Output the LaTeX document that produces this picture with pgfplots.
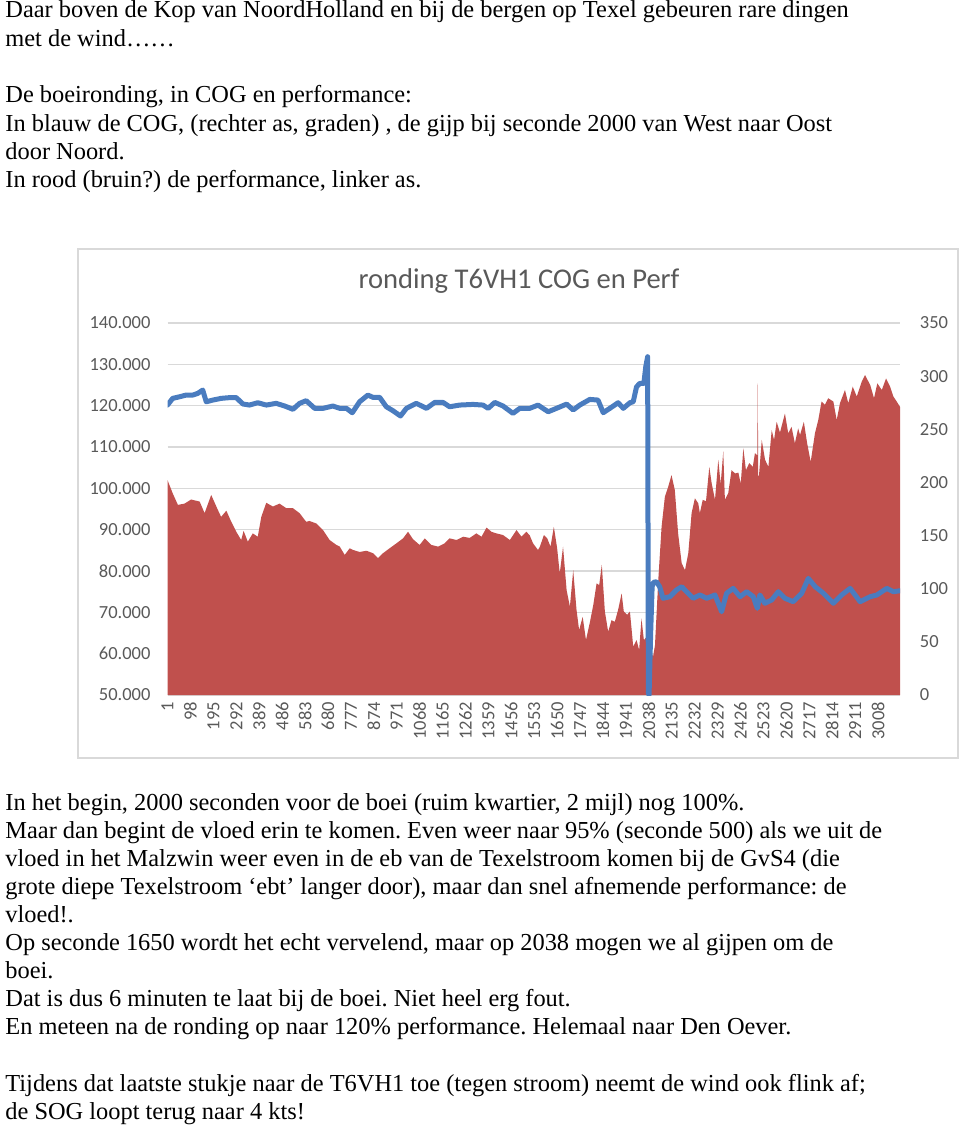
\documentclass[border=0pt]{standalone}
\usepackage{pgfplots}
\pgfplotsset{compat=1.18}
\usepackage{fontspec}
\setmainfont{Liberation Serif}
\newfontfamily\calibri{Carlito}
\definecolor{perfred}{HTML}{C0504D}
\definecolor{cogblue}{HTML}{4A7CBF}
\definecolor{tickgray}{HTML}{595959}
\definecolor{gridgray}{HTML}{D9D9D9}
\frenchspacing
\begin{document}
\begin{tikzpicture}
\useasboundingbox (0,0) rectangle (480pt,-564pt);
\begin{scope}[every node/.style={anchor=base west, inner sep=0pt, font=\fontsize{12.2}{14}\selectfont}]
\node at (2.5pt,-9pt) {Daar boven de Kop van NoordHolland en bij de bergen op Texel gebeuren rare dingen};
\node at (2.5pt,-23.15pt) {met de wind……};
\node at (2.5pt,-51.45pt) {De boeironding, in COG en performance:};
\node at (2.5pt,-65.6pt) {In blauw de COG, (rechter as, graden) , de gijp bij seconde 2000 van West naar Oost};
\node at (2.5pt,-79.75pt) {door Noord.};
\node at (2.5pt,-93.9pt) {In rood (bruin?) de performance, linker as.};
\node at (2.5pt,-405pt) {In het begin, 2000 seconden voor de boei (ruim kwartier, 2 mijl) nog 100\%.};
\node at (2.5pt,-419.05pt) {Maar dan begint de vloed erin te komen. Even weer naar 95\% (seconde 500) als we uit de};
\node at (2.5pt,-433.1pt) {vloed in het Malzwin weer even in de eb van de Texelstroom komen bij de GvS4 (die};
\node at (2.5pt,-447.15pt) {grote diepe Texelstroom ‘ebt’ langer door), maar dan snel afnemende performance: de};
\node at (2.5pt,-461.2pt) {vloed!.};
\node at (2.5pt,-475.25pt) {Op seconde 1650 wordt het echt vervelend, maar op 2038 mogen we al gijpen om de};
\node at (2.5pt,-489.3pt) {boei.};
\node at (2.5pt,-503.35pt) {Dat is dus 6 minuten te laat bij de boei. Niet heel erg fout.};
\node at (2.5pt,-517.4pt) {En meteen na de ronding op naar 120\% performance. Helemaal naar Den Oever.};
\node at (2.5pt,-545.5pt) {Tijdens dat laatste stukje naar de T6VH1 toe (tegen stroom) neemt de wind ook flink af;};
\node at (2.5pt,-559.55pt) {de SOG loopt terug naar 4 kts!};
\end{scope}
\draw[gridgray, line width=0.6pt] (39pt,-124.5pt) rectangle (479pt,-379pt);
\node[font=\calibri\fontsize{14.3}{16}\selectfont, text=tickgray] at (259.5pt,-140.5pt) {ronding T6VH1 COG en Perf};
\begin{axis}[
  at={(83.75pt,-347.5pt)}, anchor=south west,
  scale only axis, width=366.25pt, height=186pt,
  xmin=1, xmax=3101, ymin=50, ymax=140,
  ytick={50,60,70,80,90,100,110,120,130,140},
  yticklabels={50.000,60.000,70.000,80.000,90.000,100.000,110.000,120.000,130.000,140.000},
  xtick={1,98,195,292,389,486,583,680,777,874,971,1068,1165,1262,1359,1456,1553,1650,1747,1844,1941,2038,2135,2232,2329,2426,2523,2620,2717,2814,2911,3008},
  xticklabels={1,98,195,292,389,486,583,680,777,874,971,1068,1165,1262,1359,1456,1553,1650,1747,1844,1941,2038,2135,2232,2329,2426,2523,2620,2717,2814,2911,3008},
  axis line style={draw=none},
  major tick length=0pt,
  ymajorgrids, grid style={gridgray, line width=0.6pt},
  xticklabel style={rotate=90, anchor=east, font=\calibri\fontsize{9.25}{11}\selectfont, text=tickgray},
  yticklabel style={font=\calibri\fontsize{9.25}{11}\selectfont, text=tickgray, xshift=-5pt},
]
\addplot[fill=perfred, draw=none] coordinates {
(1,102.0) (23,98.8) (45,96.0) (73,96.3) (101,97.3) (137,96.8) (158,94.0) (186,98.4) (214,94.8) (228,93.1) (250,94.6) (271,91.9) (292,89.5) (313,87.5) (323,89.7) (341,87.1) (362,89.1) (383,88.3) (398,93.1) (419,96.5) (447,95.6) (475,96.3) (504,95.2) (532,95.2) (560,94.0) (588,91.9) (602,92.1) (631,91.5) (659,89.9) (687,87.5) (716,86.3) (730,85.9) (751,83.9) (772,85.5) (786,85.1) (814,84.6) (843,84.9) (871,84.3) (892,83.1) (913,84.3) (941,85.5) (970,86.7) (998,87.9) (1019,89.5) (1040,87.7) (1068,86.3) (1090,87.9) (1118,86.3) (1146,85.9) (1174,86.7) (1195,87.9) (1224,87.5) (1252,88.3) (1280,88.0) (1308,89.1) (1330,88.3) (1351,90.5) (1372,89.5) (1393,89.1) (1421,88.7) (1450,87.5) (1478,89.9) (1499,88.3) (1520,89.5) (1534,88.6) (1548,86.7) (1569,85.1)
(1577,85.9) (1594,88.7) (1608,87.9) (1622,85.9) (1636,90.7) (1650,85.5) (1661,79.4) (1675,85.9) (1690,75.4) (1704,71.4) (1718,80.2) (1732,70.6) (1743,65.7) (1758,68.9) (1772,63.3) (1789,67.7) (1803,71.8) (1817,77.0) (1828,76.6) (1839,81.5) (1852,70.2) (1866,65.3) (1880,68.1) (1894,67.7) (1908,70.6) (1923,74.6) (1932,70.2) (1946,69.4) (1958,70.2) (1972,61.7) (1986,63.3) (1997,60.9) (2007,68.5) (2017,63.3) (2028,64.0) (2038,61.7) (2056,59.3) (2064,62.0)
(2078,77.8) (2092,90.7) (2106,98.0) (2120,100.4) (2134,103.2) (2148,99.6) (2162,89.1) (2177,81.9) (2191,80.2) (2205,84.3) (2219,94.0) (2233,97.6) (2247,96.4)
(2254,94.0) (2266,97.2) (2280,96.9) (2294,105.2) (2304,101.2) (2318,97.2) (2332,106.9) (2342,101.0) (2353,108.9) (2360,97.2) (2374,98.8) (2388,104.4) (2403,103.6) (2417,103.8) (2427,101.1) (2438,109.7) (2449,104.4) (2463,106.1) (2478,105.2) (2487,108.5) (2497,108.0) (2499,125.4) (2501,103.0) (2504,103.0) (2516,111.7) (2530,106.9) (2544,105.2) (2558,114.1) (2568,111.7) (2579,116.1) (2593,113.5) (2614,118.1) (2628,113.3) (2642,114.9) (2656,110.9) (2670,114.5) (2678,112.9) (2694,116.1) (2708,110.9) (2723,106.4) (2741,113.3) (2755,116.5) (2769,121.0) (2783,120.2) (2797,121.8) (2819,121.0) (2833,116.5) (2847,120.6) (2868,123.8) (2882,120.6) (2901,124.6) (2918,122.2) (2939,125.8) (2953,127.4) (2975,125.0) (2991,121.8) (3005,125.4) (3024,123.8) (3042,126.6) (3059,124.6) (3073,122.2) (3087,121.0) (3101,119.7)
} \closedcycle;
\end{axis}
\begin{axis}[
  at={(83.75pt,-347.5pt)}, anchor=south west,
  scale only axis, width=366.25pt, height=186pt,
  xmin=1, xmax=3101, ymin=0, ymax=350,
  axis x line=none, axis y line*=right,
  axis line style={draw=none},
  major tick length=0pt,
  ytick={0,50,100,150,200,250,300,350},
  yticklabels={0,50,100,150,200,250,300,350},
  yticklabel style={font=\calibri\fontsize{9.25}{11}\selectfont, text=tickgray, xshift=6.4pt},
]
\addplot[cogblue, line width=2.5pt, line join=round, line cap=round] coordinates {
(1,272.8) (23,279.1) (52,280.6) (80,282.2) (108,282.2) (129,283.8) (150,286.9) (165,275.9) (193,277.5) (228,279.1) (264,279.8) (292,279.8) (320,273.8) (348,272.8) (383,275.0) (419,272.8) (461,274.4) (497,271.9) (532,268.8) (560,274.4) (588,276.9) (624,269.7) (659,269.7) (701,271.9) (730,269.7) (758,269.7) (783,265.6) (814,275.9) (849,282.2) (871,280.0) (899,280.0) (927,271.2) (955,267.5) (987,262.5) (1012,269.7) (1054,274.4) (1097,269.7) (1132,275.3) (1167,275.3) (1195,271.2) (1238,272.8) (1294,273.4) (1336,272.8) (1358,269.7) (1386,275.3) (1421,271.9) (1463,265.0) (1492,269.7) (1534,269.7) (1569,272.8) (1612,266.5) (1647,269.7) (1690,273.7) (1718,268.2) (1746,272.8) (1788,278.1) (1823,277.5) (1845,265.6) (1873,269.7) (1908,275.0) (1930,269.7) (1958,275.0) (1972,275.9) (1986,290.0) (2000,293.2) (2017,293.2) (2025,308.9) (2033,318.3) (2036,2.0) (2039,0.0) (2046,60.0) (2052,102.0) (2058,106.0) (2070,106.6) (2084,101.9) (2098,91.0) (2127,92.5) (2155,98.8) (2177,101.9) (2198,97.2) (2226,91.0) (2254,94.1) (2283,91.0) (2318,94.1) (2346,78.4) (2367,95.7) (2395,100.3) (2424,92.5) (2452,97.2) (2480,92.5) (2497,81.5) (2508,94.1) (2529,86.3) (2558,89.4) (2586,97.2) (2614,91.0) (2649,87.8) (2685,95.7) (2713,109.7) (2742,101.9) (2777,95.7) (2819,86.3) (2854,94.1) (2890,100.3) (2932,87.8) (2975,92.5) (3003,94.1) (3045,100.3) (3073,97.2) (3101,98.1)
};
\end{axis}
\end{tikzpicture}
\end{document}
